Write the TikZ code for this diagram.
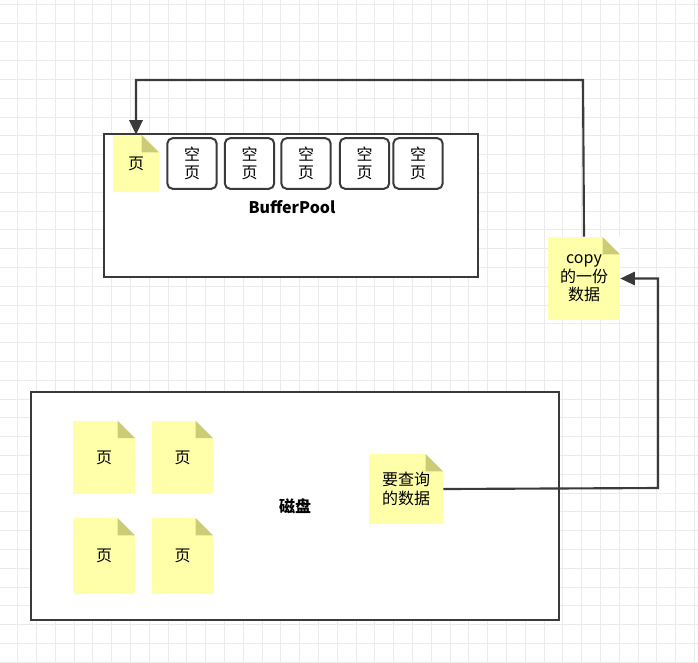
\documentclass[tikz,border=0pt]{standalone}
\usepackage{fontspec}
\setmainfont{Noto Sans CJK SC}
\usetikzlibrary{positioning}
\usetikzlibrary{arrows.meta}
\definecolor{noteyellow}{HTML}{FFFFAA}
\definecolor{notefold}{HTML}{CCCC77}
\definecolor{gridc}{HTML}{EBEBEB}
\definecolor{linec}{HTML}{3A3A3A}
\tikzset{
  note/.style={fill=noteyellow,inner sep=0pt,align=center,font=\fontsize{12}{14}\selectfont,
    path picture={
      \fill[white] ([xshift=-13pt]path picture bounding box.north east) -- (path picture bounding box.north east) -- ([yshift=-13pt]path picture bounding box.north east) -- cycle;
      \fill[notefold] ([xshift=-13pt]path picture bounding box.north east) -- ([xshift=-13pt,yshift=-13pt]path picture bounding box.north east) -- ([yshift=-13pt]path picture bounding box.north east) -- cycle;}},
  emptypage/.style={draw=linec,line width=1.5pt,rounded corners=4pt,fill=white,align=center,
    minimum width=37pt,minimum height=38pt,inner sep=0pt,font=\fontsize{12}{14}\selectfont},
  box/.style={draw=linec,line width=1.5pt,fill=white},
  link/.style={draw=linec,line width=1.6pt,-{Triangle[length=11pt,width=10pt]}}
}
\begin{document}
\begin{tikzpicture}[x=0.75pt,y=-0.75pt]
\useasboundingbox (0,0) rectangle (698,662);
\fill[white] (0,0) rectangle (698,662);
% grid
\foreach \i in {0,...,37} \draw[gridc] (17.5+18.8*\i,0) -- (17.5+18.8*\i,662);
\foreach \i in {0,...,35} \draw[gridc] (0,4+18.8*\i) -- (698,4+18.8*\i);

% BufferPool
\draw[box] (104,134) rectangle (478,277);
\node[font=\bfseries\fontsize{12}{14}\selectfont] (bp) at (292,207) {BufferPool};
\node[note,minimum width=34.5pt,minimum height=42.75pt] (page) at (136,163.5) {页};
\node[emptypage] (e1) at (192,163.5) {空\\页};
\node[emptypage] (e2) at (249.5,163.5) {空\\页};
\node[emptypage] (e3) at (306,163.5) {空\\页};
\node[emptypage] (e4) at (364.5,163.5) {空\\页};
\node[emptypage] (e5) at (418,163.5) {空\\页};

% disk
\draw[box] (31,392) rectangle (559,620);
\node[font=\bfseries\fontsize{12}{14}\selectfont] (disk) at (295,506) {磁盘};
\node[note,minimum width=46.5pt,minimum height=55pt] (d1) at (104,457.5) {页};
\node[note,minimum width=45.75pt,minimum height=55pt] (d2) at (182.5,457.5) {页};
\node[note,minimum width=46.5pt,minimum height=57pt] (d3) at (104,556) {页};
\node[note,minimum width=45.75pt,minimum height=57pt] (d4) at (182.5,556) {页};
\node[note,minimum width=55.5pt,minimum height=52.5pt] (query) at (406,489) {要查询\\的数据};

% copy
\node[note,minimum width=54pt,minimum height=62.25pt] (copy) at (584,278.5) {copy\\的一份\\数据};

% arrows
\coordinate (c1) at (583,80);
\coordinate (c2) at (658,488);
\draw[link] (copy.north) -- (c1) -| (page.north);
\draw[link] (query.east) -- (c2) |- (copy.east);
\end{tikzpicture}
\end{document}
